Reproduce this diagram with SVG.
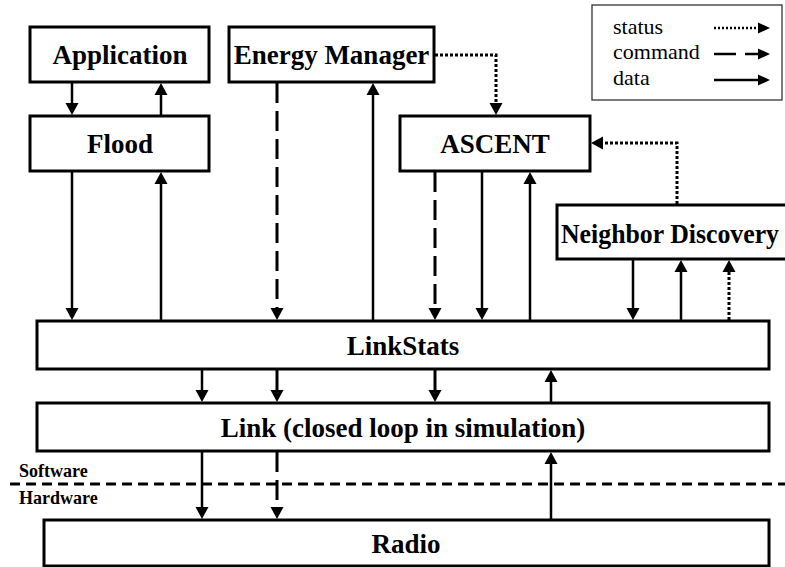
<svg xmlns="http://www.w3.org/2000/svg" width="785" height="567" viewBox="0 0 785 567">
<defs>
<marker id="ah" markerUnits="userSpaceOnUse" markerWidth="13" markerHeight="13" refX="0" refY="6.5" orient="auto" overflow="visible">
<path d="M0,0 L12,6.5 L0,13 z" fill="#000"/>
</marker>
<marker id="ahs" markerUnits="userSpaceOnUse" markerWidth="12" markerHeight="11" refX="0" refY="5.5" orient="auto" overflow="visible">
<path d="M0,0 L12,5.5 L0,11 z" fill="#000"/>
</marker>
</defs>
<style>
.box{fill:#fff;stroke:#000;stroke-width:3}
text{font-family:'Liberation Serif','Times New Roman',Tinos,'DejaVu Serif',serif;fill:#000}
.lbl{font-weight:bold;font-size:27px}
.sm{font-weight:bold;font-size:18px}
.leg{font-size:22px}
.c{fill:none;stroke:#000;stroke-width:2.5;marker-end:url(#ah)}
.d{stroke-dasharray:20,8;stroke-width:3}
.t{stroke-dasharray:3,2;stroke-width:3}
.l{fill:none;stroke:#000;stroke-width:2.5;marker-end:url(#ahs)}
</style>
<rect width="785" height="567" fill="#fff"/>

<g id="legend">
<rect x="592" y="5" width="190" height="95" fill="#fff" stroke="#333" stroke-width="1.3"/>
<text class="leg" x="613" y="34">status</text>
<text class="leg" x="613" y="59">command</text>
<text class="leg" x="613" y="85">data</text>
<path class="l" d="M714,28 H758" stroke-dasharray="2,2" stroke-width="2"/>
<path class="l" d="M714,54 H736 M745,54 H758" stroke-width="3"/>
<path class="l" d="M714,80 H758"/>
</g>

<g id="application"><rect class="box" x="30" y="27" width="179" height="55"/><text class="lbl" x="120" y="64" text-anchor="middle">Application</text></g>
<g id="energy-manager"><rect class="box" x="229" y="27" width="205" height="55"/><text class="lbl" x="331.5" y="64" text-anchor="middle">Energy Manager</text></g>
<g id="flood"><rect class="box" x="30" y="116" width="179" height="55"/><text class="lbl" x="120" y="153" text-anchor="middle">Flood</text></g>
<g id="ascent"><rect class="box" x="400" y="116" width="190" height="55"/><text class="lbl" x="495" y="153" text-anchor="middle">ASCENT</text></g>
<g id="neighbor-discovery"><rect class="box" x="557" y="205" width="245" height="54"/><text class="lbl" x="561" y="243" textLength="218" lengthAdjust="spacingAndGlyphs">Neighbor Discovery</text></g>
<g id="linkstats"><rect class="box" x="37" y="321" width="732" height="48"/><text class="lbl" x="403" y="355" text-anchor="middle">LinkStats</text></g>
<g id="link"><rect class="box" x="37" y="403" width="732" height="48"/><text class="lbl" x="403" y="437" text-anchor="middle">Link (closed loop in simulation)</text></g>
<g id="radio"><rect class="box" x="44" y="520" width="725" height="46"/><text class="lbl" x="406" y="553" text-anchor="middle">Radio</text></g>

<g id="divider">
<line x1="10" y1="484" x2="785" y2="484" stroke="#000" stroke-width="3" stroke-dasharray="10,6"/>
<text class="sm" x="19" y="477">Software</text>
<text class="sm" x="19" y="504">Hardware</text>
</g>

<g id="connectors">
<path class="c" d="M72,83 V103"/>
<path class="c" d="M161,115 V95"/>
<path class="c" d="M72,172 V308"/>
<path class="c" d="M161,320 V184"/>
<path class="c d" d="M277,83 V308"/>
<path class="c" d="M373,320 V95"/>
<path class="c t" d="M435,55 H496 V103"/>
<path class="c d" d="M435,172 V308"/>
<path class="c" d="M482,172 V308"/>
<path class="c" d="M530,320 V184"/>
<path class="c t" d="M677,204 V143 H603"/>
<path class="c" d="M633,260 V308"/>
<path class="c" d="M681,320 V272"/>
<path class="c t" d="M729,320 V272"/>
<path class="c" d="M202,370 V390"/>
<path class="c d" d="M277,370 V390" stroke-dasharray="10,6"/>
<path class="c d" d="M435,370 V390" stroke-dasharray="10,6"/>
<path class="c" d="M551,402 V382"/>
<path class="c" d="M202,452 V507"/>
<path class="c d" d="M277,452 V507" stroke-dasharray="14,6"/>
<path class="c" d="M551,519 V464"/>
</g>
</svg>
